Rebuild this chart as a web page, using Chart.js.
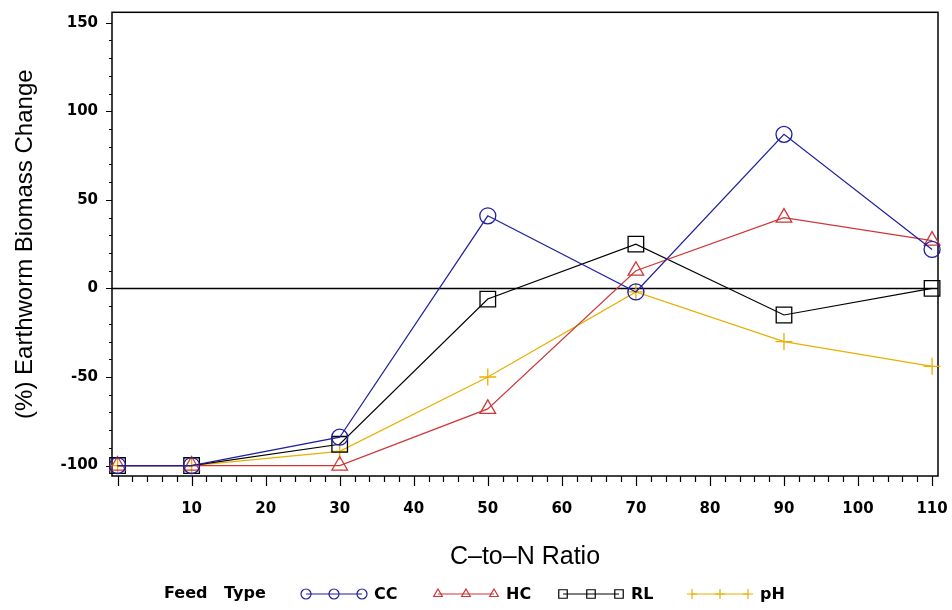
<!DOCTYPE html>
<html>
<head>
<meta charset="utf-8">
<script src="https://cdn.jsdelivr.net/npm/chart.js@4.4.0/dist/chart.umd.min.js"></script>
<style>
  html, body { margin: 0; padding: 0; background: #fff; }
  #wrap { position: relative; width: 952px; height: 610px; }
</style>
</head>
<body>
<div id="wrap"><canvas id="chart"></canvas></div>
<script>
// C-to-N ratio of each feed mix
const ratios = [0, 10, 30, 50, 70, 90, 110];

// % change of earthworm biomass, one list per feed type
const ccValues = [-100, -100, -84, 41, -2, 87, 22];
const hcValues = [-100, -100, -100, -68, 10, 40, 27];
const rlValues = [-100, -100, -88, -6, 25, -15, 0];
const phValues = [-100, -100, -92, -50, -2, -30, -44];

const xTickLabels = [10, 20, 30, 40, 50, 60, 70, 80, 90, 100, 110];
const yTickLabels = [-100, -50, 0, 50, 100, 150];

const tickFont = { family: 'DejaVu Sans', size: 15, weight: 'bold' };

function series(label, values, color, style, radius) {
    return {
        label: label,
        data: ratios.map((r, i) => ({ x: r, y: values[i] })),
        borderColor: color,
        backgroundColor: 'rgba(0,0,0,0)',
        borderWidth: 1.2,
        pointStyle: style,
        pointRadius: radius,
        pointHoverRadius: radius,
        pointBorderColor: color,
        pointBackgroundColor: 'rgba(0,0,0,0)',
        pointBorderWidth: 1.3,
        tension: 0,
        clip: false
    };
}

// frame, zero reference line and the major / minor tick marks
const framePlugin = {
    id: 'frame',
    beforeDatasetsDraw(chart) {
        const { ctx, chartArea: a, scales: { x, y } } = chart;
        ctx.save();
        ctx.strokeStyle = '#000';
        ctx.lineWidth = 1.5;
        ctx.strokeRect(a.left, a.top, a.right - a.left, a.bottom - a.top);

        const zero = Math.round(y.getPixelForValue(0)) + 0.5;
        ctx.lineWidth = 1.3;
        ctx.beginPath();
        ctx.moveTo(a.left, zero);
        ctx.lineTo(a.right, zero);
        ctx.stroke();

        ctx.lineWidth = 1.2;
        ctx.beginPath();
        for (let v = 0; v <= 110; v += 2) {
            const px = Math.round(x.getPixelForValue(v)) + 0.5;
            ctx.moveTo(px, a.bottom);
            ctx.lineTo(px, a.bottom + (v % 10 === 0 ? 10 : 6));
        }
        for (let v = -100; v <= 150; v += 10) {
            const py = Math.round(y.getPixelForValue(v)) + 0.5;
            ctx.moveTo(a.left, py);
            ctx.lineTo(a.left - (v % 50 === 0 ? 6 : 3), py);
        }
        ctx.stroke();
        ctx.restore();
    }
};

// legend row: "Feed Type" then a three-marker sample per series
const legendPlugin = {
    id: 'feedLegend',
    afterDraw(chart) {
        const { ctx } = chart;
        const rowY = 594;
        const starts = [306, 438, 563, 692];
        ctx.save();
        ctx.fillStyle = '#000';
        ctx.textBaseline = 'middle';
        ctx.font = 'bold 16px "DejaVu Sans"';
        ctx.fillText('Feed', 164, rowY);
        ctx.fillText('Type', 224, rowY);

        chart.data.datasets.forEach((ds, i) => {
            const x0 = starts[i];
            const x1 = x0 + 56;
            ctx.strokeStyle = ds.borderColor;
            ctx.lineWidth = 1.2;
            ctx.beginPath();
            ctx.moveTo(x0, rowY);
            ctx.lineTo(x1, rowY);
            ctx.stroke();
            [x0, x0 + 28, x1].forEach(px => {
                ctx.strokeStyle = ds.borderColor;
                ctx.fillStyle = 'rgba(0,0,0,0)';
                ctx.lineWidth = 1.2;
                Chart.helpers.drawPoint(ctx, {
                    pointStyle: ds.pointStyle,
                    radius: ds.pointStyle === 'rect' ? 6 : 5,
                    rotation: 0,
                    borderWidth: 1.2
                }, px, rowY);
            });
            ctx.fillStyle = '#000';
            ctx.font = 'bold 16px "DejaVu Sans"';
            ctx.fillText(ds.label, x1 + 12, rowY + 1);
        });
        ctx.restore();
    }
};

Chart.defaults.color = '#000';
Chart.defaults.font.family = 'DejaVu Sans';

new Chart(document.getElementById('chart'), {
    type: 'line',
    data: {
        datasets: [
            series('CC', ccValues, 'rgb(30,30,160)', 'circle', 8),
            series('HC', hcValues, 'rgb(205,55,55)', 'triangle', 9),
            series('RL', rlValues, '#000', 'rect', 11),
            series('pH', phValues, 'rgb(232,176,0)', 'cross', 8.5)
        ]
    },
    options: {
        responsive: true,
        maintainAspectRatio: false,
        animation: false,
        events: [],
        layout: { padding: { top: 9, right: 14, left: 0, bottom: 0 } },
        plugins: {
            legend: { display: false },
            tooltip: { enabled: false }
        },
        scales: {
            x: {
                type: 'linear',
                min: -0.75,
                max: 110.8,
                afterBuildTicks: s => { s.ticks = xTickLabels.map(v => ({ value: v })); },
                afterFit: s => { s.height = 134; s.paddingLeft = 0; s.paddingRight = 0; },
                grid: { display: false, drawTicks: false },
                border: { display: false },
                ticks: { font: tickFont, padding: 24, maxRotation: 0, autoSkip: false },
                title: {
                    display: true,
                    text: 'C\u2013to\u2013N Ratio',
                    font: { family: 'Liberation Sans', size: 25 },
                    padding: { top: 0, bottom: 38 }
                }
            },
            y: {
                type: 'linear',
                min: -105.9,
                max: 155.9,
                afterBuildTicks: s => { s.ticks = yTickLabels.map(v => ({ value: v })); },
                afterFit: s => { s.width = 112; s.paddingTop = 0; s.paddingBottom = 0; },
                grid: { display: false, drawTicks: false },
                border: { display: false },
                ticks: { font: tickFont, padding: 14 },
                title: {
                    display: true,
                    text: '(%) Earthworm Biomass Change',
                    font: { family: 'Liberation Sans', size: 24 },
                    padding: { top: 11, bottom: 0 }
                }
            }
        }
    },
    plugins: [framePlugin, legendPlugin]
});
</script>
</body>
</html>
